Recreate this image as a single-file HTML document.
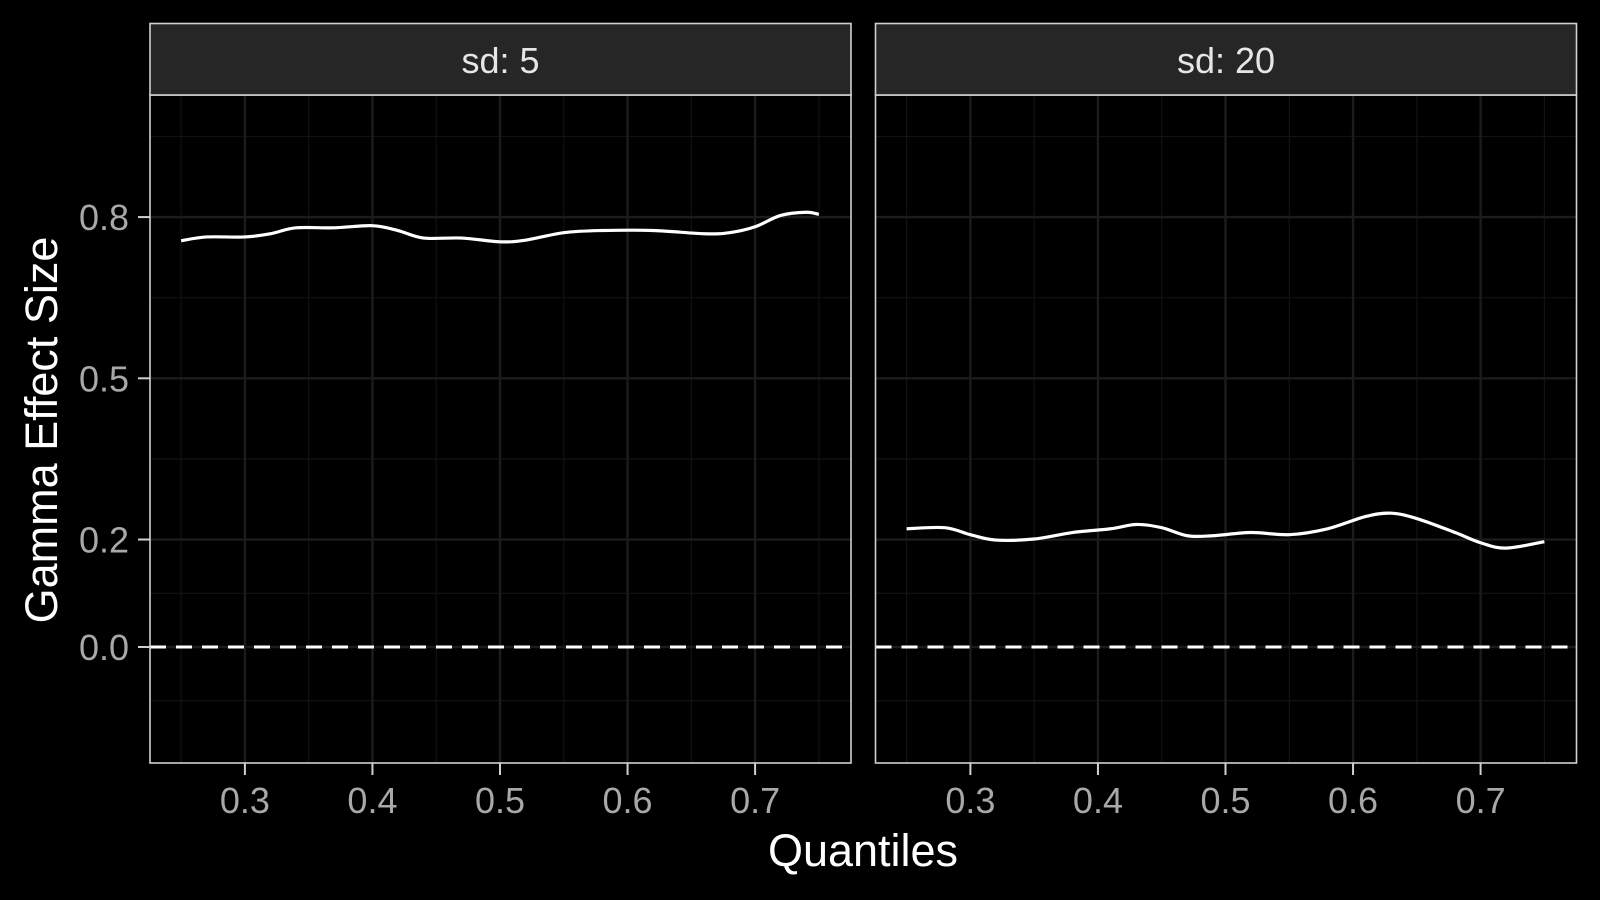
<!DOCTYPE html>
<html><head><meta charset="utf-8"><style>
html,body{margin:0;padding:0;background:#000;}
svg{display:block;font-family:"Liberation Sans",Arial,sans-serif;}
</style></head><body>
<svg id="chart" width="1600" height="900" viewBox="0 0 1600 900"></svg>
<script>
const panels = ["sd: 5", "sd: 20"];
const xTicks = [0.3, 0.4, 0.5, 0.6, 0.7];
const xMinor = [0.25, 0.35, 0.45, 0.55, 0.65, 0.75];
const yTicks = [0.0, 0.2, 0.5, 0.8];
const yMinor = [-0.1, 0.1, 0.35, 0.65, 0.95];
const xs1 = [0.25,0.27,0.3,0.32,0.34,0.37,0.4,0.42,0.44,0.47,0.5,0.52,0.55,0.58,0.62,0.66,0.68,0.7,0.72,0.74,0.75];
const ys1 = [0.756,0.763,0.763,0.769,0.780,0.780,0.784,0.775,0.761,0.761,0.754,0.757,0.771,0.775,0.775,0.769,0.771,0.782,0.803,0.809,0.805];
const xs2 = [0.25,0.28,0.3,0.32,0.35,0.38,0.41,0.43,0.45,0.47,0.49,0.52,0.55,0.58,0.61,0.63,0.65,0.68,0.7,0.72,0.75];
const ys2 = [0.220,0.222,0.209,0.199,0.201,0.213,0.220,0.228,0.222,0.207,0.207,0.213,0.209,0.220,0.243,0.249,0.239,0.213,0.194,0.184,0.196];
const series = [[xs1, ys1], [xs2, ys2]];

const NS = "http://www.w3.org/2000/svg";
const svg = document.getElementById("chart");
function mk(tag, attrs, parent) {
  const e = document.createElementNS(NS, tag);
  for (const k in attrs) e.setAttribute(k, attrs[k]);
  (parent || svg).appendChild(e);
  return e;
}
const panelLeft = [150, 875.5], panelW = 701, plotTop = 95, plotBottom = 763, stripTop = 23.5;
const yS = v => 647 - v * 537.4;
function xf(p) { return v => panelLeft[p] + 94.9 + (v - 0.3) * 1275.5; }

panels.forEach((name, p) => {
  const x = xf(p), L = panelLeft[p], R = L + panelW;
  const g = mk("g", {});
  
  
  yMinor.forEach(v => mk("line", {x1:L, x2:R, y1:yS(v), y2:yS(v), stroke:"#121212", "stroke-width":1.2}, g));
  xMinor.forEach(v => mk("line", {x1:x(v), x2:x(v), y1:plotTop, y2:plotBottom, stroke:"#121212", "stroke-width":1.2}, g));
  yTicks.forEach(v => mk("line", {x1:L, x2:R, y1:yS(v), y2:yS(v), stroke:"#1c1c1c", "stroke-width":2.4}, g));
  xTicks.forEach(v => mk("line", {x1:x(v), x2:x(v), y1:plotTop, y2:plotBottom, stroke:"#1c1c1c", "stroke-width":2.4}, g));
  const ref = mk("line", {x1:L, x2:R, y1:yS(0), y2:yS(0), stroke:"#fff", "stroke-width":3, "stroke-dasharray":"16,10"}, g);
  
  
  const xsA = series[p][0], ysA = series[p][1];
  const pts = xsA.map((v, i) => [x(v), yS(ysA[i])]);
  let d = "M" + pts[0][0] + "," + pts[0][1];
  for (let i = 0; i < pts.length - 1; i++) {
    const p0 = pts[Math.max(0, i - 1)], p1 = pts[i], p2 = pts[i + 1], p3 = pts[Math.min(pts.length - 1, i + 2)];
    const c1 = [p1[0] + (p2[0] - p0[0]) / 6, p1[1] + (p2[1] - p0[1]) / 6];
    const c2 = [p2[0] - (p3[0] - p1[0]) / 6, p2[1] - (p3[1] - p1[1]) / 6];
    d += " C" + c1[0] + "," + c1[1] + " " + c2[0] + "," + c2[1] + " " + p2[0] + "," + p2[1];
  }
  const path = mk("path", {d:d, fill:"none", stroke:"#fff", "stroke-width":3.2}, g);
  
  
  mk("rect", {x:L, y:plotTop, width:panelW, height:plotBottom - plotTop, fill:"none", stroke:"#d0d0d0", "stroke-width":1.6}, g);
  const strip = mk("rect", {x:L, y:stripTop, width:panelW, height:plotTop - stripTop, fill:"#262626", stroke:"#d0d0d0", "stroke-width":1.6}, g);
  
  
  const st = mk("text", {x:L + panelW / 2, y:73, "text-anchor":"middle", fill:"#e6e6e6", "font-size":36}, g);
  st.textContent = name;
  
  
  xTicks.forEach(v => {
    mk("line", {x1:x(v), x2:x(v), y1:plotBottom, y2:plotBottom + 12, stroke:"#d0d0d0", "stroke-width":2}, g);
    const t = mk("text", {x:x(v), y:813, "text-anchor":"middle", fill:"#a8a8a8", "font-size":36}, g);
    t.textContent = v.toFixed(1);
    
    
  });
});
yTicks.forEach(v => {
  mk("line", {x1:138, x2:150, y1:yS(v), y2:yS(v), stroke:"#d0d0d0", "stroke-width":2});
  const t = mk("text", {x:129, y:yS(v) + 13, "text-anchor":"end", fill:"#a8a8a8", "font-size":36});
  t.textContent = v.toFixed(1);
  
  
});
const xt = mk("text", {x:863, y:866, "text-anchor":"middle", fill:"#fff", "font-size":45});
xt.textContent = "Quantiles";


const yt = mk("text", {x:0, y:0, "text-anchor":"middle", fill:"#fff", "font-size":45, transform:"translate(57,430) rotate(-90)"});
yt.textContent = "Gamma Effect Size";


</script>
</body></html>
